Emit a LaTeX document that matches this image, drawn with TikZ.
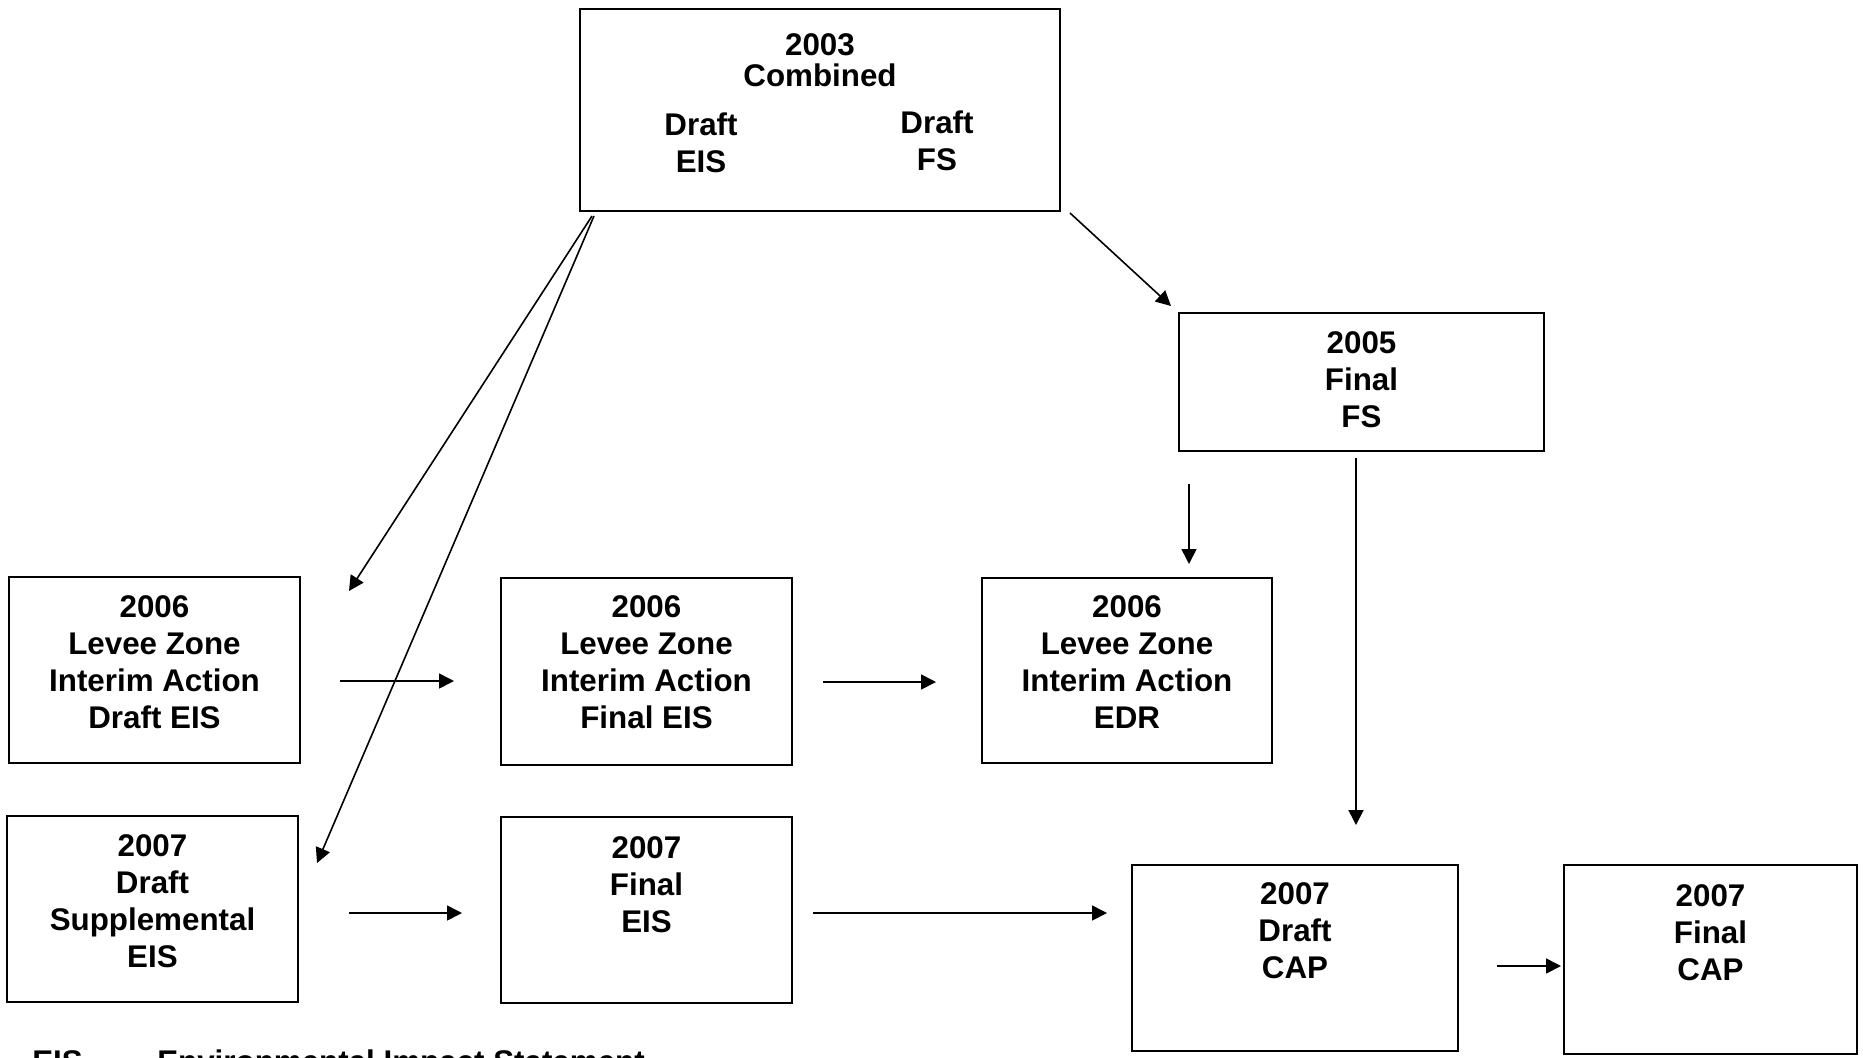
\documentclass[tikz,border=0pt]{standalone}
\usepackage{fontspec}
\setmainfont{Liberation Sans}
\usetikzlibrary{arrows.meta,calc}
\begin{document}
\begin{tikzpicture}[x=0.75pt,y=-0.75pt,
  box/.style={draw, line width=1.5pt, inner sep=0pt, rectangle},
  lbl/.style={inner sep=0pt, align=center, anchor=base, font=\fontsize{23.5pt}{27.75pt}\selectfont\bfseries},
  leg/.style={inner sep=0pt, anchor=base west, font=\fontsize{23.5pt}{27.75pt}\selectfont\bfseries},
  arr/.style={line width=1.2pt, -{Triangle[length=11.25pt,width=11.25pt]}}]
\useasboundingbox (0,0) rectangle (1863,1057);
\fill[white] (0,0) rectangle (1863,1057);
\clip (0,0) rectangle (1863,1057);
% boxes
\node[box, minimum width=360pt, minimum height=151.5pt] (top) at (820,110) {};
\node[box, minimum width=273.75pt, minimum height=103.5pt] (fs) at (1361.5,382) {};
\node[box, minimum width=218.25pt, minimum height=139.5pt] (b1) at (154.5,670) {};
\node[box, minimum width=218.25pt, minimum height=140.25pt] (b2) at (646.5,671.5) {};
\node[box, minimum width=217.5pt, minimum height=138.75pt] (b3) at (1127,670.5) {};
\node[box, minimum width=218.25pt, minimum height=139.5pt] (c1) at (152.5,909) {};
\node[box, minimum width=218.25pt, minimum height=139.5pt] (c2) at (646.5,910) {};
\node[box, minimum width=244.5pt, minimum height=139.5pt] (c3) at (1295,958) {};
\node[box, minimum width=219.75pt, minimum height=141.75pt] (c4) at (1710.5,959.5) {};
% labels (anchored at the baseline of their last line)
\node[lbl] (ttop) at (820,86) {2003\\[-4.5pt]Combined};
\node[lbl] (tleft) at (701,172) {Draft\\EIS};
\node[lbl] (tright) at (937,170) {Draft\\FS};
\node[lbl] (tfs) at (1361.5,427) {2005\\Final\\FS};
\node[lbl] (tb1) at (154.5,728) {2006\\Levee Zone\\Interim Action\\Draft EIS};
\node[lbl] (tb2) at (646.5,728) {2006\\Levee Zone\\Interim Action\\Final EIS};
\node[lbl] (tb3) at (1127,728) {2006\\Levee Zone\\Interim Action\\EDR};
\node[lbl] (tc1) at (152.5,967) {2007\\Draft\\Supplemental\\EIS};
\node[lbl] (tc2) at (646.5,932) {2007\\Final\\EIS};
\node[lbl] (tc3) at (1295,978) {2007\\Draft\\CAP};
\node[lbl] (tc4) at (1710.5,980) {2007\\Final\\CAP};
% legend (cut by the lower edge, as in the reference)
\node[leg] (legk) at (32,1072) {EIS};
\node[leg] (legv) at (157,1072) {Environmental Impact Statement};
% connectors
\draw[arr] ($(top.south west)+(13,4)$) -- ($(b1.north east)+(48,15)$);
\draw[arr] ($(top.south west)+(15,4)$) -- ($(c1.north east)+(18,48)$);
\draw[arr] ($(top.south east)+(9,1)$) -- ($(fs.north west)+(-7,-6)$);
\draw[arr] ($(fs.south west)+(11,32)$) -- ($(b3.north west)+(208,-13)$);
\draw[arr] ($(fs.south)+(-5.5,6)$) -- ($(c3.north)+(61,-39)$);
\draw[arr] ($(b1.east)+(39,11)$) -- ($(b2.west)+(-46,9.5)$);
\draw[arr] ($(b2.east)+(30,10.5)$) -- ($(b3.west)+(-45,11.5)$);
\draw[arr] ($(c1.east)+(50,4)$) -- ($(c2.west)+(-38,3)$);
\draw[arr] ($(c2.east)+(20,3)$) -- ($(c3.west)+(-24,-45)$);
\draw[arr] ($(c3.east)+(38,8)$) -- ($(c4.west)+(-2,6.5)$);
\end{tikzpicture}
\end{document}
